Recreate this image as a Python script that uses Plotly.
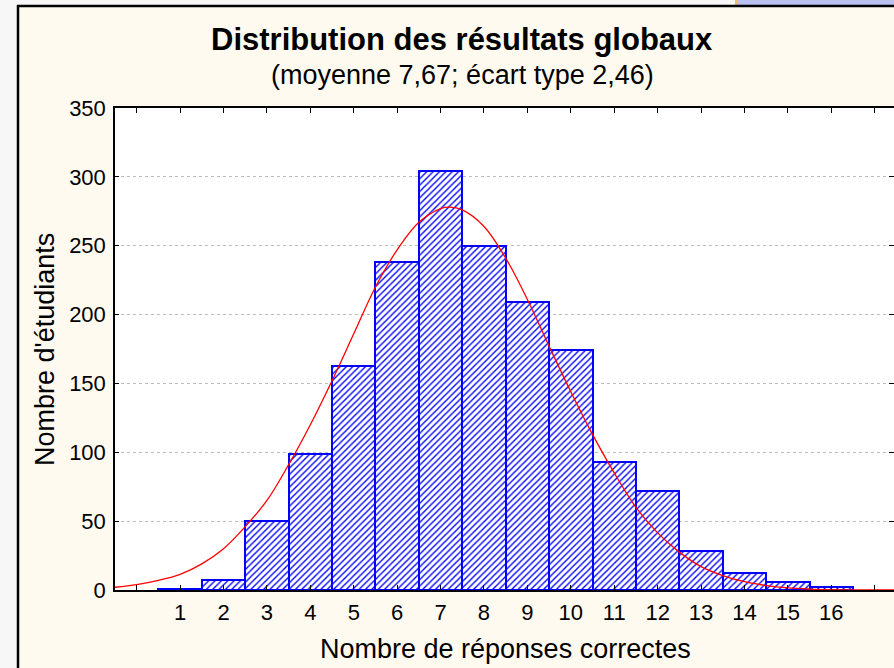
import plotly.graph_objects as go

# ---- data ----
scores = list(range(1, 17))
counts = [1, 7, 50, 99, 163, 238, 304, 250, 209, 174, 93, 72, 28, 12, 6, 2]

# fitted normal curve, x in bar-axis units
curve_x = [-0.5, 0, 0.5, 1, 1.5, 2, 2.5, 3, 3.5, 4, 4.5, 5, 5.5, 6, 6.5, 7, 7.2,
           7.5, 8, 8.5, 9, 9.5, 10, 10.5, 11, 11.5, 12, 12.5, 13, 13.5, 14,
           14.5, 15, 15.5, 16, 17.5]
curve_y = [2.0, 3.9, 7, 11.4, 19, 30, 46, 65, 91, 120, 152, 186, 220, 247, 267,
           277, 278, 276, 264, 241, 211, 177, 144, 113, 85, 60, 41.5, 27.5, 17,
           10.5, 6, 3.2, 1.5, 0.7, 0.3, 0]

x_tickvals = list(range(0, 18))
x_ticktext = [""] + [str(i) for i in range(1, 17)] + [""]
y_tickvals = list(range(0, 351, 50))

title_text = "Distribution des résultats globaux"
subtitle_text = "(moyenne 7,67; écart type 2,46)"
xtitle_text = "Nombre de réponses correctes"
ytitle_text = "Nombre d'étudiants"

# ---- layout geometry ----
W, H = 894, 668
L, R, T, B = 115, 0, 108, 78
PW, PH = W - L - R, H - T - B


def px(xp):
    return (xp - L) / PW


def py(yp):
    return (H - B - yp) / PH


FONT = "Arial, 'Liberation Sans', Helvetica, sans-serif"
CREAM = "#FFFAF0"
OUTER = "#F7F7F7"

fig = go.Figure()

fig.add_trace(go.Bar(
    x=scores, y=counts, width=1,
    marker=dict(
        color="white",
        line=dict(color="#0000FF", width=2),
        pattern=dict(shape="/", fgcolor="#0000FF", bgcolor="white",
                     size=4.5, solidity=0.3, fillmode="replace"),
    ),
    showlegend=False, hoverinfo="x+y",
))

fig.add_trace(go.Scatter(
    x=curve_x, y=curve_y, mode="lines", yaxis="y2",
    line=dict(color="#FF0000", width=1.3, shape="spline", smoothing=1.0),
    showlegend=False, hoverinfo="skip",
))

shapes = [
    # outer strips (outside the panel)
    dict(type="rect", xref="paper", yref="paper", x0=px(-2), x1=px(17), y0=py(H + 5), y1=py(-2),
         fillcolor=OUTER, line=dict(width=0), layer="above"),
    dict(type="rect", xref="paper", yref="paper", x0=px(-2), x1=px(W + 2), y0=py(5), y1=py(-2),
         fillcolor=OUTER, line=dict(width=0), layer="above"),
    dict(type="rect", xref="paper", yref="paper", x0=px(737), x1=px(W + 2), y0=py(5), y1=py(-2),
         fillcolor="#B9C1F0", line=dict(width=0), layer="above"),
    dict(type="rect", xref="paper", yref="paper", x0=px(735), x1=px(737.5), y0=py(5), y1=py(-2),
         fillcolor="#F3B86A", line=dict(width=0), layer="above"),
    # panel border
    dict(type="line", xref="paper", yref="paper", x0=px(18), x1=px(18), y0=py(5), y1=py(H + 5),
         line=dict(color="black", width=2.5), layer="above"),
    dict(type="line", xref="paper", yref="paper", x0=px(17), x1=px(W + 5), y0=py(6), y1=py(6),
         line=dict(color="black", width=2.5), layer="above"),
]

annotations = [
    dict(text=f"<b>{title_text}</b>", xref="paper", yref="paper", x=px(462), y=py(39),
         xanchor="center", yanchor="middle", showarrow=False,
         font=dict(family=FONT, size=31, color="black")),
    dict(text=subtitle_text, xref="paper", yref="paper", x=px(462), y=py(75),
         xanchor="center", yanchor="middle", showarrow=False,
         font=dict(family=FONT, size=27, color="black")),
    dict(text=xtitle_text, xref="paper", yref="paper", x=px(506), y=py(649),
         xanchor="center", yanchor="middle", showarrow=False,
         font=dict(family=FONT, size=27, color="black")),
    dict(text=ytitle_text, xref="paper", yref="paper", x=px(45), y=py(350),
         xanchor="center", yanchor="middle", showarrow=False, textangle=-90,
         font=dict(family=FONT, size=27, color="black")),
]

fig.update_layout(
    width=W, height=H,
    margin=dict(l=L, r=R, t=T, b=B, pad=0),
    paper_bgcolor=CREAM, plot_bgcolor="white",
    bargap=0, barmode="overlay",
    shapes=shapes, annotations=annotations,
    xaxis=dict(
        range=[-0.5, -0.5 + PW / 43.41],
        tickmode="array", tickvals=x_tickvals, ticktext=x_ticktext,
        ticks="inside", ticklen=5, tickcolor="black", tickwidth=1,
        showline=True, linecolor="black", linewidth=1.5, mirror="ticks",
        showgrid=False, zeroline=False,
        tickfont=dict(family=FONT, size=22, color="black"),
        ticklabelstandoff=2,
    ),
    yaxis=dict(
        range=[0, 350], tickmode="array", tickvals=y_tickvals,
        ticks="inside", ticklen=4, tickcolor="black", tickwidth=1,
        showline=True, linecolor="black", linewidth=1.5, mirror=False,
        showgrid=True, gridcolor="#BDBDBD", gridwidth=1, griddash="dot",
        zeroline=False,
        tickfont=dict(family=FONT, size=22, color="black"),
        ticklabelstandoff=3,
    ),
    yaxis2=dict(
        range=[0, 350], overlaying="y", side="right",
        tickmode="array", tickvals=y_tickvals,
        ticks="inside", ticklen=5, tickcolor="black", tickwidth=1,
        showticklabels=False, showline=False, showgrid=False, zeroline=False,
    ),
)

fig.write_html(
    "out.html",
    config={"displayModeBar": False},
    post_script="document.body.style.margin='0';document.body.style.overflow='hidden';",
)
